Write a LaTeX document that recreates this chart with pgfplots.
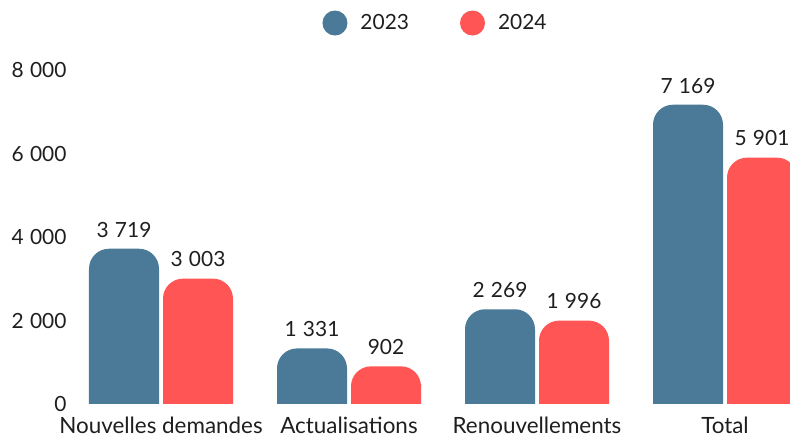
\documentclass[border=0pt]{standalone}
\usepackage{pgfplots}
\usepackage{pgfplotstable}
\usepackage{fontspec}
\setmainfont{Lato}
\pgfplotsset{compat=1.18}
\definecolor{c23}{RGB}{74,122,151}
\definecolor{c24}{RGB}{255,85,85}
\definecolor{txt}{RGB}{30,30,30}
\pgfplotstableread{
x v23 v24
0 3719 3003
1 1331 902
2 2269 1996
3 7169 5901
}\data
\begin{document}
\begin{tikzpicture}
\useasboundingbox (0,0) rectangle (790bp,439bp);
\begin{axis}[
  at={(67bp,35bp)}, anchor=south west,
  scale only axis, width=827.2bp, height=334bp,
  xmin=-0.5, xmax=3.9, ymin=0, ymax=8000,
  clip=true,
  ybar, bar width=70bp,
  axis line style={draw=none}, major tick length=0pt,
  xtick={0,1,2,3},
  xticklabels={Nouvelles demandes, Actualisations, Renouvellements, Total},
  ytick={0,2000,4000,6000,8000},
  tick label style={font=\fontsize{21}{25}\selectfont, text=txt},
  xticklabel style={inner sep=0pt, yshift=-13bp, font=\fontsize{22.5}{26}\selectfont},
  yticklabel style={xshift=3bp},
  /pgf/number format/.cd, 1000 sep={\kern0.3em}, assume math mode=true, /pgfplots/.cd,
  every node near coord/.append style={font=\fontsize{21}{25}\selectfont, text=txt, yshift=8bp},
  legend columns=2,
  legend style={draw=none, fill=none, at={(0.4455,1.1407)}, anchor=center,
    /tikz/every odd column/.append style={column sep=11bp},
    /tikz/every even column/.append style={column sep=49bp},
    font=\fontsize{21}{25}\selectfont, text=txt},
]
\addplot[fill=c23, draw=none, rounded corners=20bp, bar shift=-37bp,
  nodes near coords,
  legend image code/.code={\fill[c23] (0bp,0bp) circle (12.5bp);}]
  table[x=x, y=v23] {\data};
\addlegendentry{2023}
\addplot[fill=c24, draw=none, rounded corners=20bp, bar shift=37bp,
  nodes near coords,
  legend image code/.code={\fill[c24] (0bp,0bp) circle (12.5bp);}]
  table[x=x, y=v24] {\data};
\addlegendentry{2024}
\addplot[fill=c23, draw=none, bar shift=-37bp, forget plot]
  table[x=x, y expr={min(\thisrow{v23},480)}] {\data};
\addplot[fill=c24, draw=none, bar shift=37bp, forget plot]
  table[x=x, y expr={min(\thisrow{v24},480)}] {\data};
\end{axis}
\end{tikzpicture}
\end{document}
